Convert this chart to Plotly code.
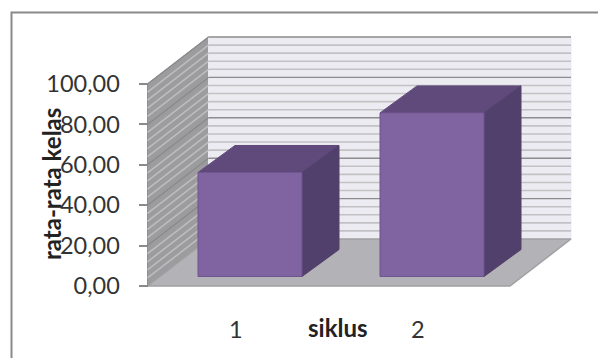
import plotly.graph_objects as go

# Chart data
categories = [1, 2]
values = [51.5, 81.0]
y_ticks = [0, 20, 40, 60, 80, 100]
y_tick_labels = ["0,00", "20,00", "40,00", "60,00", "80,00", "100,00"]
x_title = "siklus"
y_title = "rata-rata kelas"

W, H = 598, 358

# Projection of the box: x is measured in category units, y in value units
PX_PER_CAT = 182.0
PX_PER_VAL = 2.02
X0_PX, Y0_PX = 250.0, 286.0          # category 1 / value 0 at the front edge
x_px = lambda p: p / PX_PER_CAT
y_px = lambda p: p / PX_PER_VAL

BAR_W = 104 / PX_PER_CAT
BAR_LIFT = y_px(9.5)                 # bars stand part-way back on the floor
BAR_DX, BAR_DY = x_px(37), y_px(27)  # depth of each bar
WALL_DX, WALL_DY = x_px(61), y_px(47)  # depth of the floor and side wall
X_LEFT = 1 + x_px(147.5 - X0_PX)
X_FLOOR_R = 1 + x_px(510 - X0_PX)
Y_TOP = max(y_ticks)

FRONT, TOP_FACE, SIDE = "#8063A1", "#604A7B", "#51406B"
EDGE = "#6F5590"
WALL, FLOOR, BACK = "#9C9C9F", "#B3B2B6", "#ECEBF1"


def poly(xs, ys, fill, line=None, width=1):
    return go.Scatter(x=xs + xs[:1], y=ys + ys[:1], mode="lines", fill="toself",
                      fillcolor=fill, line=dict(color=line or fill, width=width),
                      hoverinfo="skip", showlegend=False)


def hline(xs, ys, color, width):
    return go.Scatter(x=xs, y=ys, mode="lines", line=dict(color=color, width=width),
                      hoverinfo="skip", showlegend=False)


fig = go.Figure()

# Side wall and back wall
xb = X_LEFT + WALL_DX
xr = xb + (X_FLOOR_R - X_LEFT)
fig.add_trace(poly([X_LEFT, xb, xb, X_LEFT], [0, WALL_DY, Y_TOP + WALL_DY, Y_TOP], WALL, "#8E8E90"))
fig.add_trace(poly([xb, xr, xr, xb], [WALL_DY, WALL_DY, Y_TOP + WALL_DY, Y_TOP + WALL_DY], BACK, BACK))

# Gridlines: four minor lines between each major value
for v in range(4, Y_TOP + 1, 4):
    major = v % 20 == 0
    wall_col = "#8A8A8C" if major else "#BDBDC0"
    back_col = "#8C8C8E" if major else "#C2C2C5"
    fig.add_trace(hline([X_LEFT, xb], [v, v + WALL_DY], wall_col, 1.3 if major else 1.6))
    fig.add_trace(hline([xb, xr], [v + WALL_DY, v + WALL_DY], back_col, 1.4 if major else 1.6))

# Floor
fig.add_trace(poly([X_LEFT, X_FLOOR_R, xr, xb], [0, 0, WALL_DY, WALL_DY], FLOOR, "#A0A0A3", 1.5))

# Top and side faces of each bar
for c, v in zip(categories, values):
    xl, xrt = c - BAR_W / 2, c + BAR_W / 2
    top = BAR_LIFT + v
    fig.add_trace(poly([xl, xrt, xrt + BAR_DX, xl + BAR_DX],
                       [top, top, top + BAR_DY, top + BAR_DY], TOP_FACE))
    fig.add_trace(poly([xrt, xrt + BAR_DX, xrt + BAR_DX, xrt],
                       [BAR_LIFT, BAR_LIFT + BAR_DY, top + BAR_DY, top], SIDE))

# Front faces sit on an overlaid pair of axes so they paint above the scatter layer
fig.add_trace(go.Bar(x=categories, y=values, base=BAR_LIFT, width=BAR_W,
                     xaxis="x2", yaxis="y2",
                     marker=dict(color=FRONT, line=dict(color=EDGE, width=1)),
                     hoverinfo="skip", showlegend=False))

font = "Lato"
x_range = [1 - X0_PX / PX_PER_CAT, 1 + (W - X0_PX) / PX_PER_CAT]
y_range = [-(H - Y0_PX) / PX_PER_VAL, Y0_PX / PX_PER_VAL]
hidden = dict(visible=False, fixedrange=True)
centred = dict(xanchor="center", yanchor="middle", showarrow=False)

fig.update_layout(
    width=W, height=H, margin=dict(l=0, r=0, t=0, b=0),
    paper_bgcolor="white", plot_bgcolor="white",
    shapes=[dict(type="rect", xref="paper", yref="paper",
                 x0=11.5 / W, x1=1.05, y0=-0.05, y1=1 - 12.5 / H,
                 line=dict(color="#8A8A8A", width=2), layer="below")],
    xaxis=dict(range=x_range, showgrid=False, zeroline=False, showticklabels=False,
               ticks="", domain=[0, 1], fixedrange=True),
    yaxis=dict(range=y_range, tickmode="array", tickvals=y_ticks, ticktext=y_tick_labels,
               showgrid=False, zeroline=False, showline=False,
               ticks="outside", ticklen=9, tickwidth=1.5, tickcolor="#8A8A8A",
               tickfont=dict(family=font, size=23.5, color="#333333"),
               ticklabelstandoff=14,
               anchor="free", position=147.5 / W, fixedrange=True),
    xaxis2=dict(range=x_range, overlaying="x", **hidden),
    yaxis2=dict(range=y_range, overlaying="y", **hidden),
    annotations=[
        dict(x=c - 14.5 / PX_PER_CAT, y=-(329 - Y0_PX) / PX_PER_VAL, text=str(c),
             font=dict(family=font, size=23.5, color="#333333"), **centred)
        for c in categories
    ] + [
        dict(x=338 / W, y=1 - 327 / H, xref="paper", yref="paper", text=f"<b>{x_title}</b>",
             font=dict(family=font, size=24, color="#222222"), **centred),
        dict(x=51 / W, y=1 - 184 / H, xref="paper", yref="paper", text=f"<b>{y_title}</b>",
             textangle=-90, font=dict(family=font, size=24, color="#222222"), **centred),
    ],
)

fig.write_html("out.html", config={"displayModeBar": False})
